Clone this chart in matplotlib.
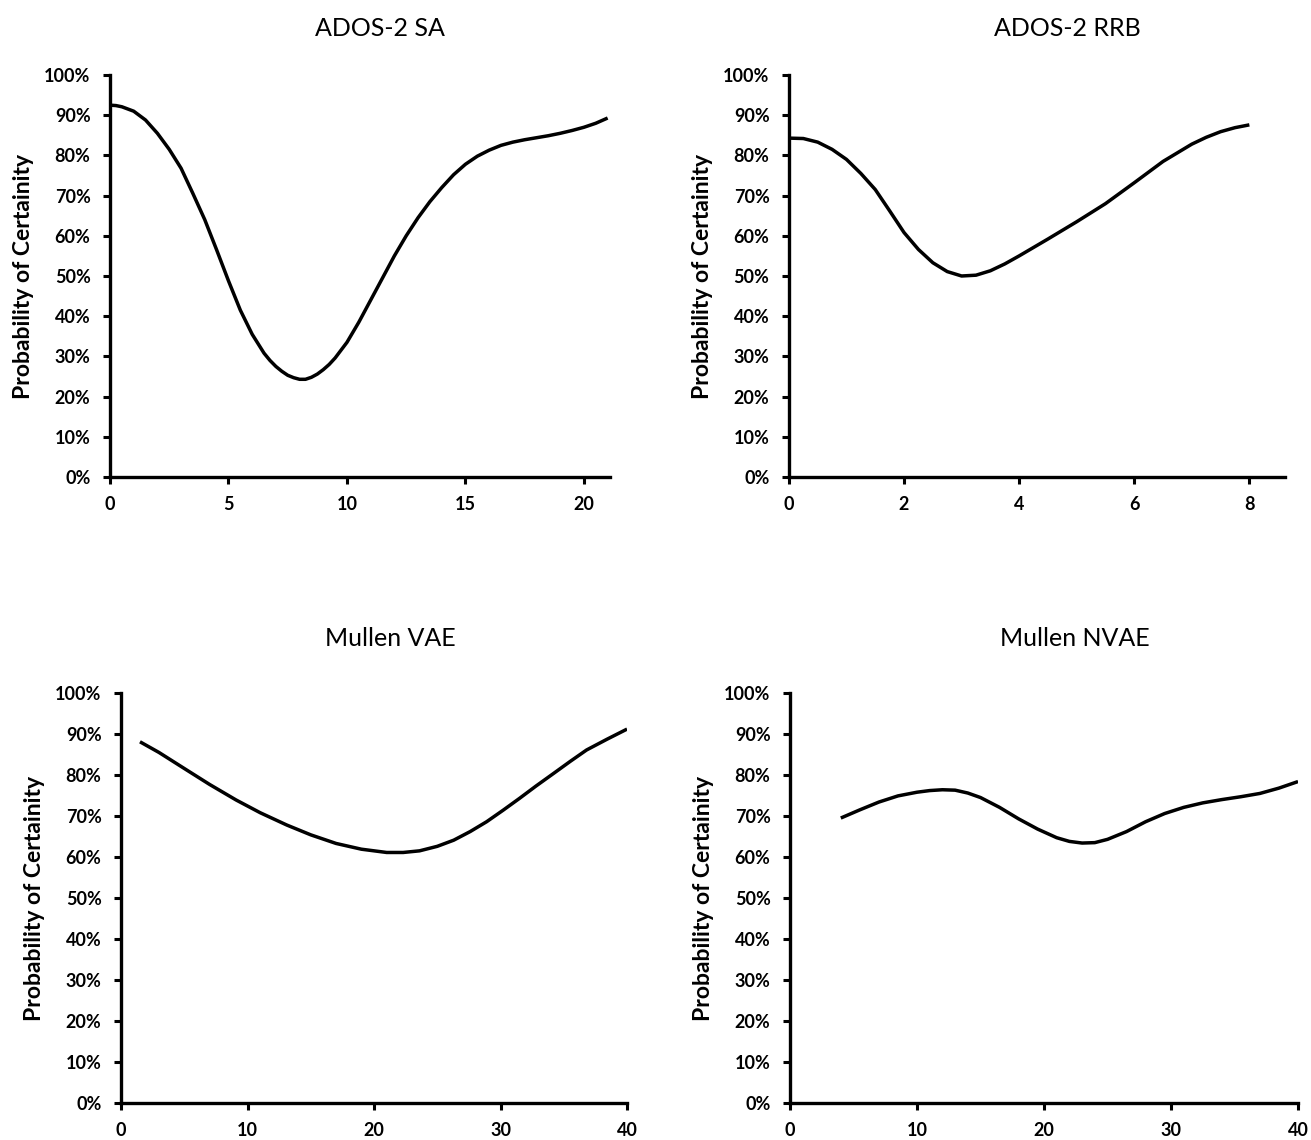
import numpy as np
import matplotlib
matplotlib.use("Agg")
import matplotlib.pyplot as plt
from matplotlib.ticker import PercentFormatter

plt.rcParams["font.family"] = ["Lato", "DejaVu Sans"]

# DATA (probability in %)

sa_x = [0, 0.25, 0.5, 1.0, 1.5, 2.0, 2.5, 3.0, 3.5, 4.0, 4.5, 5.0, 5.5, 6.0, 6.5,
        6.75, 7.0, 7.25, 7.5, 7.75, 8.0, 8.25, 8.5, 8.75, 9.0, 9.25, 9.5, 10.0,
        10.5, 11.0, 11.5, 12.0, 12.5, 13.0, 13.5, 14.0, 14.5, 15.0, 15.5, 16.0,
        16.5, 17.0, 17.5, 18.0, 18.5, 19.0, 19.5, 20.0, 20.5, 21.0]
sa_y = [92.5, 92.4, 92.1, 91.0, 88.8, 85.5, 81.5, 76.8, 70.5, 64.0, 56.5, 48.8,
        41.5, 35.5, 30.8, 29.0, 27.5, 26.3, 25.3, 24.7, 24.3, 24.3, 24.8, 25.6,
        26.7, 28.0, 29.6, 33.5, 38.5, 44.0, 49.5, 55.0, 60.0, 64.5, 68.5, 72.0,
        75.2, 77.8, 79.8, 81.3, 82.5, 83.3, 83.9, 84.4, 84.9, 85.5, 86.2, 87.0,
        88.0, 89.3]

rrb_x = [0, 0.25, 0.5, 0.75, 1.0, 1.25, 1.5, 1.75, 2.0, 2.25, 2.5, 2.75, 3.0,
         3.25, 3.5, 3.75, 4.0, 4.5, 5.0, 5.5, 6.0, 6.5, 7.0, 7.25, 7.5, 7.75, 8.0]
rrb_y = [84.3, 84.2, 83.3, 81.5, 79.0, 75.5, 71.5, 66.2, 60.8, 56.6, 53.3, 51.1,
         50.0, 50.2, 51.3, 53.0, 55.0, 59.2, 63.5, 68.0, 73.2, 78.5, 82.8, 84.5,
         85.9, 86.9, 87.6]

vae_x = [1.5, 3, 5.2, 7, 9.1, 11, 13.1, 15, 17, 19, 21, 22.3, 23.6, 25, 26.3,
         27.6, 28.9, 30.2, 31.5, 32.8, 34.2, 35.5, 36.8, 38.4, 40]
vae_y = [88.1, 85.5, 81.2, 77.7, 73.9, 70.8, 67.8, 65.4, 63.3, 61.9, 61.1, 61.1,
         61.5, 62.6, 64.1, 66.2, 68.6, 71.4, 74.3, 77.3, 80.4, 83.3, 86.1, 88.7,
         91.2]

nvae_x = [4, 5.5, 7, 8.5, 10, 11, 12, 13, 14, 15, 16.5, 18, 19.5, 21, 22, 23,
          24, 25, 26.5, 28, 29.5, 31, 32.5, 34, 35.5, 37, 38.5, 40]
nvae_y = [69.5, 71.5, 73.4, 74.9, 75.8, 76.2, 76.4, 76.3, 75.6, 74.5, 72.1, 69.3,
          66.8, 64.7, 63.8, 63.4, 63.5, 64.3, 66.2, 68.6, 70.6, 72.1, 73.2, 74.0,
          74.7, 75.5, 76.8, 78.4]

titles = ["ADOS-2 SA", "ADOS-2 RRB", "Mullen VAE", "Mullen NVAE"]
ylabel = "Probability of Certainity"

fig = plt.figure(figsize=(13.11, 11.4), dpi=100)

panels = [
    # rect, x data, y data, xlim, xticks, title position
    ([0.0839, 0.5816, 0.3814, 0.3526], sa_x, sa_y, 21.1, [0, 5, 10, 15, 20], (0.290, 0.975)),
    ([0.6018, 0.5816, 0.3784, 0.3526], rrb_x, rrb_y, 8.62, [0, 2, 4, 6, 8], (0.814, 0.975)),
    ([0.0923, 0.0325, 0.3860, 0.3596], vae_x, vae_y, 40, [0, 10, 20, 30, 40], (0.298, 0.440)),
    ([0.6026, 0.0325, 0.3875, 0.3596], nvae_x, nvae_y, 40, [0, 10, 20, 30, 40], (0.820, 0.440)),
]

for (rect, x, y, xmax, xticks, tpos), title in zip(panels, titles):
    ax = fig.add_axes(rect)
    ax.plot(x, y, color="black", lw=2.5, solid_joinstyle="round",
            solid_capstyle="butt")
    ax.set_xlim(0, xmax)
    ax.set_ylim(0, 100)
    ax.set_yticks(np.arange(0, 101, 10))
    ax.set_xticks(xticks)
    ax.yaxis.set_major_formatter(PercentFormatter(decimals=0))
    for s in ["top", "right"]:
        ax.spines[s].set_visible(False)
    for s in ["left", "bottom"]:
        ax.spines[s].set_linewidth(2.4)
    ax.tick_params(width=2.2, length=5, labelsize=13, pad=9)
    for lab in ax.get_xticklabels() + ax.get_yticklabels():
        lab.set_fontweight("bold")
    ax.set_ylabel(ylabel, fontsize=16.5, fontweight="bold", labelpad=7)
    fig.text(tpos[0], tpos[1], title, ha="center", va="center", fontsize=18)

fig.savefig("out.png", dpi=100)
